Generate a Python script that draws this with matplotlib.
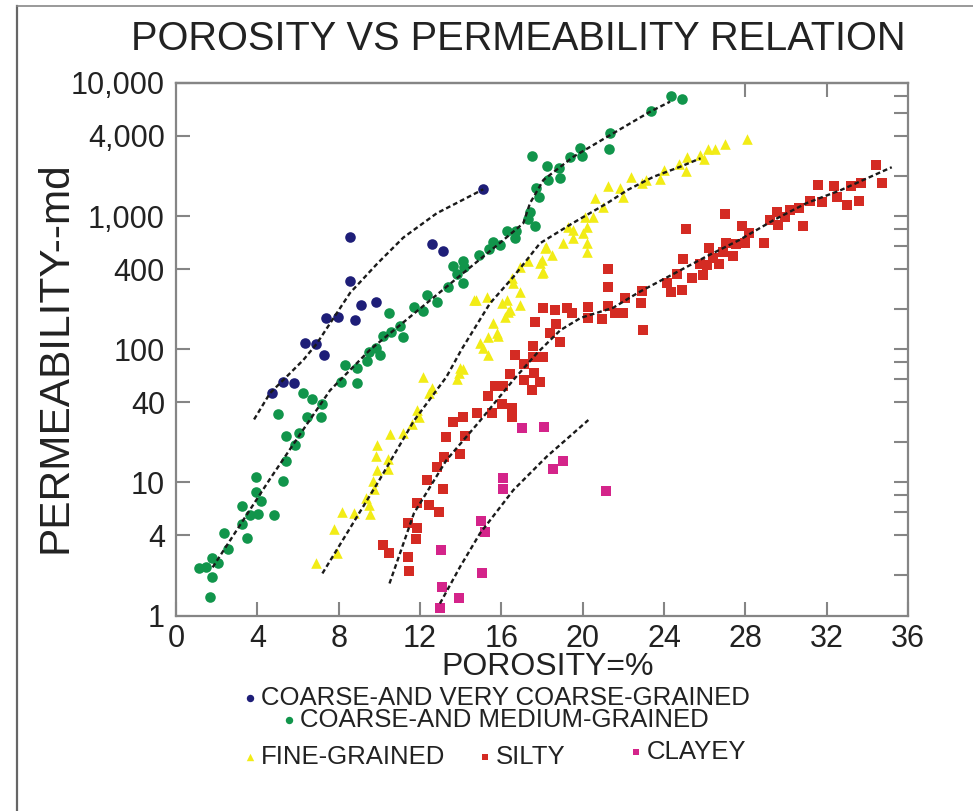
import matplotlib
matplotlib.use('Agg')
import matplotlib.pyplot as plt
from matplotlib.lines import Line2D

plt.rcParams['font.family'] = ['Liberation Sans', 'DejaVu Sans']

# coarse- and very coarse-grained
blue_x = [4.71, 5.28, 5.80, 6.34, 6.87, 7.30, 7.38, 7.95, 8.80, 8.56, 9.10, 9.84, 8.56, 12.57, 13.15, 15.11]
blue_y = [47, 57, 56, 111, 109, 90, 171, 176, 166, 327, 215, 228, 700, 617, 550, 1590]

# coarse- and medium-grained
green_x = [1.15, 1.48, 1.67, 1.75, 1.79, 2.08, 2.38, 2.54, 3.23, 3.26, 3.51, 3.64, 3.92, 3.93, 4.02,
           4.16, 4.82, 5.00, 5.25, 5.41, 5.41, 5.85, 6.06, 6.26, 6.43, 6.70, 7.11, 7.20, 8.11, 8.31,
           8.89, 8.89, 9.41, 9.51, 9.82, 10.03, 10.20, 10.48, 10.57, 11.02, 11.18, 11.72, 12.16, 12.33, 12.82,
           13.39, 13.64, 13.84, 14.13, 14.13, 14.18, 14.90, 15.41, 15.57, 15.93, 16.26, 16.67, 16.71, 17.30, 17.41,
           17.52, 17.66, 17.69, 17.85, 18.25, 18.28, 18.85, 18.89, 19.38, 19.87, 19.95, 21.31, 21.35, 23.35, 24.35,
           24.90]
green_y = [2.26, 2.3, 1.38, 2.69, 1.95, 2.49, 4.2, 3.15, 6.6, 4.9, 3.8, 5.7, 11.0, 8.4, 5.8,
           7.2, 5.7, 32.4, 10.3, 14.5, 22.3, 19, 23.4, 46.7, 31, 42, 31, 39, 57, 76,
           72, 56, 81, 96, 102, 90, 126, 186, 135, 149, 124, 206, 195, 255, 225,
           295, 422, 367, 313, 462, 418, 510, 566, 635, 607, 773, 681, 773, 950, 1080,
           2830, 847, 1617, 1384, 2360, 1860, 2310, 1920, 2800, 3270, 2830, 3190, 4190, 6190, 7980,
           7550]

# fine-grained
yel_x = [6.89, 7.90, 7.77, 8.15, 8.77, 9.33, 9.51, 9.54, 9.74, 9.71, 9.87, 9.84, 9.87, 10.44, 10.44,
         10.52, 11.18, 11.62, 11.84, 11.97, 12.46, 12.57, 12.16, 13.93, 14.13, 13.84, 13.97, 15.11, 15.36, 14.95,
         15.77, 15.61, 15.36, 15.82, 16.18, 16.35, 16.92, 16.02, 14.74, 14.66, 15.28, 16.43, 16.26, 16.92, 16.59,
         16.51, 16.92, 17.33, 17.98, 17.98, 18.15, 17.90, 18.07, 18.20, 18.48, 19.05, 19.30, 19.54, 19.54, 20.03,
         20.20, 20.20, 20.20, 20.11, 20.49, 20.61, 21.02, 21.23, 21.84, 22.00, 22.36, 22.90, 23.12, 23.80, 24.00,
         24.75, 25.08, 25.11, 25.77, 25.97, 26.18, 26.51, 27.00, 28.07]
yel_y = [2.46, 2.96, 4.43, 6.0, 5.9, 7.65, 6.75, 5.75, 8.85, 10.3, 12.4, 15.8, 19.1, 15.1, 12.7,
         23, 23.4, 27.3, 35, 31, 46.7, 51, 62, 66, 71, 60, 72, 102, 90, 111,
         132, 157, 124, 126, 176, 191, 215, 221, 234, 236, 248, 197, 234, 270, 313,
         341, 418, 462, 372, 468, 573, 442, 382, 589, 510, 625, 832, 787, 681, 742,
         832, 625, 541, 988, 988, 1360, 1180, 1690, 1620, 1400, 1980, 1760, 1870, 1890, 2220,
         2460, 2190, 2770, 2880, 2670, 3220, 3190, 3480, 3790]

# silty
red_x = [10.20, 10.48, 11.43, 11.48, 11.39, 11.84, 11.80, 11.87, 12.46, 12.95, 12.36, 13.11, 12.82, 13.18, 13.97,
         13.28, 14.22, 13.61, 14.10, 14.79, 15.52, 15.36, 15.69, 16.07, 16.02, 16.51, 16.51, 16.43, 17.12, 17.54,
         16.67, 17.61, 17.12, 17.90, 17.49, 18.07, 17.54, 18.07, 18.64, 17.66, 18.69, 19.21, 19.46, 20.28, 20.28,
         20.94, 21.26, 21.59, 22.00, 22.85, 22.90, 22.95, 18.39, 18.89, 22.08, 21.23, 21.26, 24.13, 24.35, 24.87,
         24.66, 24.92, 25.08, 25.36, 25.93, 25.77, 26.10, 26.39, 26.23, 26.72, 26.92, 27.41, 27.05, 27.54, 28.00,
         27.00, 27.82, 28.20, 28.93, 29.21, 29.59, 29.95, 29.57, 30.20, 30.66, 30.82, 31.18, 31.75, 31.56, 32.36,
         32.49, 32.98, 33.18, 33.61, 33.69, 34.43, 34.71]
red_y = [3.38, 2.93, 2.76, 2.17, 4.98, 4.51, 3.73, 7.03, 6.75, 6.0, 10.5, 8.9, 13.1, 15.6, 16.3,
         21.8, 22.3, 28.5, 30.8, 33, 33.3, 44.4, 52.9, 53, 39, 36, 30.8, 64.7, 78, 88,
         90, 66.5, 58.8, 57, 49, 88, 106, 203, 197, 159, 155, 203, 186, 208, 171,
         168, 211, 186, 188, 221, 275, 139, 132, 114, 244, 295, 398, 313, 270, 279,
         367, 473, 796, 341, 361, 435, 430, 482, 573, 435, 541, 505, 625, 617, 625,
         1040, 843, 743, 631, 935, 857, 990, 1070, 1110, 1160, 843, 1290, 1270, 1710, 1680,
         1384, 1210, 1680, 1300, 1760, 2420, 1760]

# clayey
mag_x = [17.0, 18.11, 19.05, 18.56, 16.10, 16.10, 21.15, 15.0, 15.20, 13.03, 15.03, 13.07, 13.93, 12.98]
mag_y = [25.5, 26.2, 14.5, 12.5, 10.8, 8.86, 8.65, 5.12, 4.26, 3.10, 2.07, 1.64, 1.36, 1.13]

# dashed trend lines
blue_tx = [3.84, 4.62, 6.26, 6.92, 8.56, 9.9, 11.18, 12.82, 15.11]
blue_ty = [29.7, 46.7, 83, 110, 265, 440, 690, 1050, 1590]
green_tx = [1.8, 4.62, 6.34, 7.57, 9.54, 13.31, 16.10, 17.08, 17.41, 18.07, 19.54, 21.35, 23.31, 24.30]
green_ty = [2.3, 10.6, 26, 49, 99, 295, 661, 884, 1250, 1870, 2790, 4060, 6080, 7240]
yel_tx = [7.2, 9.5, 10.0, 11.7, 13.3, 14.05, 15.44, 16.6, 17.9, 19.5, 21.2, 22.2, 23.5, 24.8, 25.8]
yel_ty = [2.07, 7.8, 10.4, 29, 62, 100, 221, 351, 625, 884, 1250, 1570, 1980, 2350, 2720]
red_tx = [10.5, 11.7, 13.3, 14.95, 16.6, 17.74, 18.9, 19.9, 21.5, 22.8, 26.1, 27.7, 29.4, 31.0, 32.7, 35.2]
red_ty = [1.74, 5.85, 14.7, 29, 59, 93, 139, 172, 205, 270, 499, 661, 935, 1250, 1570, 2330]
mag_tx = [12.98, 13.97, 14.95, 16.59, 18.23, 20.28]
mag_ty = [1.23, 2.32, 4.14, 8.75, 15.6, 29.4]

x_ticks = [0, 4, 8, 12, 16, 20, 24, 28, 32, 36]
y_ticks = [1, 4, 10, 40, 100, 400, 1000, 4000, 10000]
y_labels = ['1', '4', '10', '40', '100', '400', '1,000', '4,000', '10,000']
right_ticks = [2, 4, 6, 8, 10, 20, 40, 60, 80, 100, 200, 400, 600, 800, 1000, 2000, 4000, 6000, 8000]

c_blue = '#1e1e78'
c_green = '#11954b'
c_yel = '#f2ec16'
c_red = '#d42b23'
c_mag = '#d4248a'
spine_c = '#858585'

fig = plt.figure(figsize=(9.73, 8.11), dpi=100)
ax = fig.add_axes([176 / 973, 195.5 / 811, 732 / 973, 532.5 / 811])
ax.set_yscale('log')
ax.set_xlim(0, 36)
ax.set_ylim(1, 10000)

s1 = ax.scatter(blue_x, blue_y, s=58, marker='o', color=c_blue, linewidths=0, label='COARSE-AND VERY COARSE-GRAINED', zorder=3)
s2 = ax.scatter(green_x, green_y, s=58, marker='o', color=c_green, linewidths=0, label='COARSE-AND MEDIUM-GRAINED', zorder=3)
s3 = ax.scatter(yel_x, yel_y, s=58, marker='^', color=c_yel, linewidths=0, label='FINE-GRAINED', zorder=3)
s4 = ax.scatter(red_x, red_y, s=46, marker='s', color=c_red, linewidths=0, label='SILTY', zorder=3)
s5 = ax.scatter(mag_x, mag_y, s=46, marker='s', color=c_mag, linewidths=0, label='CLAYEY', zorder=3)

dash = (0, (2.0, 1.3))
for tx, ty in [(blue_tx, blue_ty), (green_tx, green_ty), (yel_tx, yel_ty), (red_tx, red_ty), (mag_tx, mag_ty)]:
    ax.plot(tx, ty, color='#1a1a1a', lw=1.7, linestyle=dash, zorder=4)

ax.set_xticks(x_ticks)
ax.set_xticklabels([str(v) for v in x_ticks])
ax.set_yticks(y_ticks)
ax.set_yticklabels(y_labels)
ax.minorticks_off()
ax.tick_params(axis='both', direction='in', length=10, width=1.5, color=spine_c, labelsize=22, labelcolor='#222222')
ax.tick_params(axis='x', pad=6)
ax.tick_params(axis='y', pad=8)
for sp in ax.spines.values():
    sp.set_color(spine_c)
    sp.set_linewidth(1.6)

# right-hand ticks
ax_r = ax.twinx()
ax_r.set_yscale('log')
ax_r.set_ylim(1, 10000)
ax_r.set_yticks(right_ticks)
ax_r.minorticks_off()
ax_r.tick_params(axis='y', direction='in', length=10, width=1.5, color=spine_c, labelright=False)
for sp in ax_r.spines.values():
    sp.set_visible(False)

# top ticks
ax_t = ax.secondary_xaxis('top')
ax_t.set_xticks([28, 32])
ax_t.tick_params(direction='in', length=10, width=1.5, color=spine_c, labeltop=False)
ax_t.spines['top'].set_color(spine_c)
ax_t.spines['top'].set_linewidth(1.6)

fig.text(518 / 973, 1 - 49.5 / 811, 'POROSITY VS PERMEABILITY RELATION', ha='center', va='baseline', fontsize=28.6, color='#222222')
fig.text(56 / 973, 1 - 357 / 811, 'PERMEABILITY--md', ha='center', va='center', rotation=90, fontsize=30.5, color='#222222')
fig.text(548 / 973, 1 - 667 / 811, 'POROSITY=%', ha='center', va='center', fontsize=23, color='#222222')

# legend, one entry per block as laid out in the original
legend_spots = [(s1, 244, 698), (s2, 283, 720), (s3, 244, 757), (s4, 479, 757), (s5, 630, 752)]
for h, lx, ly in legend_spots:
    fig.legend(handles=[h], labels=[h.get_label()], loc='center left',
               bbox_to_anchor=(lx / 973, 1 - ly / 811), frameon=False, borderpad=0, borderaxespad=0,
               handlelength=0.5, handletextpad=0.15, markerscale=0.7, scatterpoints=1,
               fontsize=18.5, labelcolor='#222222')

# outer frame lines
fig.add_artist(Line2D([16.5 / 973, 16.5 / 973], [0, 1 - 5.5 / 811], color='#666666', lw=1.6))
fig.add_artist(Line2D([16.5 / 973, 1], [1 - 5.5 / 811, 1 - 5.5 / 811], color='#888888', lw=1.2))

fig.savefig('out.png', dpi=100)
